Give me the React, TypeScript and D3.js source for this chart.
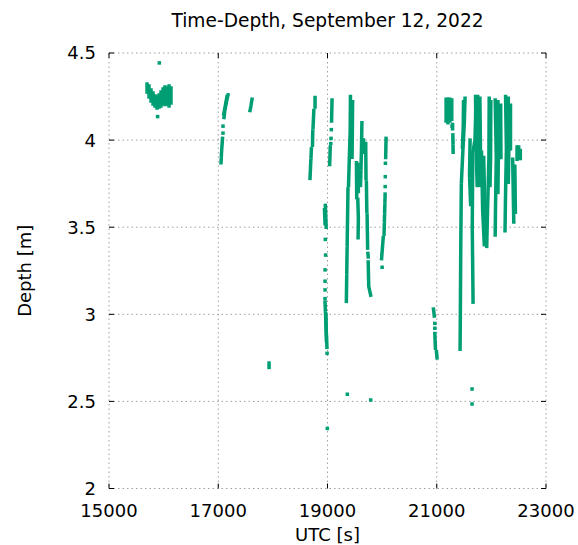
import React from "react";
import * as d3 from "d3";

type P = [number, number];

const title = "Time-Depth, September 12, 2022";
const xLabel = "UTC [s]";
const yLabel = "Depth [m]";
const xTicks = [15000, 17000, 19000, 21000, 23000];
const xTickLabels = ["15000", "17000", "19000", "21000", "23000"];
const yTicks = [2, 2.5, 3, 3.5, 4, 4.5];
const yTickLabels = ["2", "2.5", "3", "3.5", "4", "4.5"];

// strands of samples [UTC s, depth m]
const cluster1: P[][] = [
  [[15696, 4.322], [15696, 4.276]],
  [[15732, 4.311], [15732, 4.247]],
  [[15769, 4.288], [15769, 4.224]],
  [[15806, 4.27], [15806, 4.207]],
  [[15842, 4.253], [15842, 4.196]],
  [[15879, 4.247], [15879, 4.184]],
  [[15916, 4.259], [15916, 4.19]],
  [[15952, 4.276], [15952, 4.196]],
  [[15989, 4.293], [15989, 4.207]],
  [[16025, 4.305], [16025, 4.196]],
  [[16062, 4.299], [16062, 4.207]],
  [[16099, 4.311], [16099, 4.196]],
  [[16135, 4.299], [16135, 4.213]],
];

const cluster2: P[][] = [
  [[17179, 4.26], [17150, 4.22], [17120, 4.17], [17106, 4.13]],
  [[17160, 4.25], [17125, 4.19], [17100, 4.15]],
  [[17078, 4.01], [17060, 3.93], [17051, 3.87]],
  [[17618, 4.235], [17600, 4.2], [17582, 4.17]],
  [[17930, 2.72], [17930, 2.695]],
];

const cluster3: P[][] = [
  [[18772, 4.245], [18772, 4.19]],
  [[18750, 4.17], [18735, 4.07]],
  [[18730, 4.05], [18725, 3.97]],
  [[18705, 3.95], [18690, 3.85], [18680, 3.78]],
  [[19083, 4.23], [19075, 4.11]],
  [[19050, 3.96], [19040, 3.86]],
  [[18960, 3.625], [18975, 3.5]],
  [[18945, 3.6], [18955, 3.52]],
  [[18955, 3.07], [18975, 2.92], [18990, 2.81]],
  [[18970, 3.0], [18980, 2.85]],
  [[19420, 4.25], [19415, 4.05], [19400, 3.9], [19385, 3.74]],
  [[19460, 4.22], [19455, 4.05], [19450, 3.9]],
  [[19375, 3.72], [19360, 3.4], [19345, 3.07]],
  [[19630, 4.1], [19622, 3.95], [19605, 3.74]],
  [[19660, 4.0], [19660, 3.93]],
  [[19530, 3.87], [19535, 3.67]],
  [[19560, 3.86], [19565, 3.7]],
  [[19555, 3.66], [19565, 3.55], [19560, 3.44]],
  [[19700, 3.98], [19705, 3.78]],
  [[19712, 3.76], [19720, 3.59]],
  [[19725, 3.57], [19735, 3.38]],
  [[19740, 3.35], [19745, 3.33]],
  [[19745, 3.3], [19755, 3.16], [19790, 3.11]],
  [[20072, 4.01], [20065, 3.9]],
  [[20055, 3.69], [20035, 3.46]],
  [[20020, 3.44], [19990, 3.32]],
];

const cluster4: P[][] = [
  [[20940, 3.03], [20955, 2.99]],
  [[20965, 2.89], [20975, 2.805]],
  [[20995, 2.785], [21005, 2.75]],
  [[21171, 4.235], [21171, 4.11]],
  [[21205, 4.235], [21205, 4.1]],
  [[21240, 4.235], [21240, 4.11]],
  [[21275, 4.23], [21275, 4.12]],
  [[21290, 4.09], [21290, 4.065]],
  [[21295, 4.03], [21300, 3.93]],
  [[21518, 4.24], [21505, 4.1], [21480, 3.95], [21450, 3.75], [21440, 3.4], [21432, 3.0], [21427, 2.8]],
  [[21490, 4.22], [21485, 4.08], [21470, 3.96]],
  [[21720, 4.24], [21700, 4.0], [21660, 3.93], [21650, 3.5], [21665, 3.07]],
  [[21610, 4.0], [21600, 3.8], [21620, 3.63]],
  [[21710, 4.25], [21720, 3.95], [21740, 3.74]],
  [[21750, 4.25], [21760, 3.95], [21780, 3.74]],
  [[21790, 4.24], [21800, 3.95], [21810, 3.8]],
  [[21820, 3.93], [21840, 3.6], [21870, 3.4]],
  [[21860, 3.9], [21880, 3.6], [21890, 3.45]],
  [[21960, 4.24], [21955, 3.9], [21930, 3.6], [21915, 3.39]],
  [[21990, 4.22], [21985, 3.9], [21975, 3.74]],
  [[22070, 4.23], [22090, 3.9], [22075, 3.6], [22070, 3.455]],
  [[22120, 4.22], [22130, 3.95], [22120, 3.7]],
  [[22170, 4.2], [22175, 3.9]],
  [[22260, 4.25], [22275, 3.95], [22260, 3.7], [22250, 3.48]],
  [[22310, 4.24], [22320, 3.95], [22310, 3.75]],
  [[22350, 4.2], [22350, 3.95]],
  [[22390, 3.89], [22410, 3.53]],
  [[22430, 3.85], [22440, 3.58]],
  [[22470, 3.96], [22470, 3.89]],
  [[22500, 3.96], [22500, 3.9]],
  [[22530, 3.94], [22530, 3.89]],
];

// isolated samples
const singles: P[] = [
  [15921, 4.443], [15890, 4.135],
  [17087, 4.08], [17087, 4.04],
  [19070, 4.06], [19065, 4.01], [19060, 3.98],
  [18960, 3.43], [18965, 3.34], [18955, 3.255], [18955, 3.19], [18955, 3.14], [18955, 3.09],
  [18992, 2.776], [18997, 2.345],
  [19363, 2.541], [19791, 2.508],
  [20060, 3.867], [20058, 3.79], [20056, 3.733], [20000, 3.27],
  [20965, 2.948], [20965, 2.92],
  [21280, 4.08],
  [21646, 2.571], [21646, 2.485],
];

const W = 578, H = 545;
const L = 109, R = 546, T = 53, B = 488.5;
const green = "#009e73";
const font = "DejaVu Sans";

export default function App() {
  const x = d3.scaleLinear().domain([15000, 23000]).range([L, R]);
  const y = d3.scaleLinear().domain([2, 4.5]).range([B, T]);
  const line = d3.line<P>().x((p) => x(p[0])).y((p) => y(p[1]));
  const strands = [...cluster1, ...cluster2, ...cluster3, ...cluster4];

  return (
    <svg width={W} height={H} style={{ position: "absolute", left: 0, top: 0, background: "#fff" }}>
      <rect width={W} height={H} fill="#fff" />
      {xTicks.map((t) => (
        <line key={"gx" + t} x1={x(t)} x2={x(t)} y1={T} y2={B} stroke="#a0a0a0" strokeWidth={1} strokeDasharray="1.5,3" />
      ))}
      {yTicks.map((t) => (
        <line key={"gy" + t} x1={L} x2={R} y1={y(t)} y2={y(t)} stroke="#a0a0a0" strokeWidth={1} strokeDasharray="1.5,3" />
      ))}
      <g>
        {strands.map((s, i) => (
          <path key={"s" + i} d={line(s) || ""} fill="none" stroke={green} strokeWidth={3.5} strokeLinecap="square" strokeDasharray="8,1.5" />
        ))}
        {singles.map((p, i) => (
          <rect key={"p" + i} x={x(p[0]) - 1.75} y={y(p[1]) - 1.75} width={3.5} height={3.5} fill={green} />
        ))}
      </g>
      {xTicks.map((t) => (
        <g key={"tx" + t}>
          <line x1={x(t)} x2={x(t)} y1={B} y2={B - 5} stroke="#000" />
          <line x1={x(t)} x2={x(t)} y1={T} y2={T + 5} stroke="#000" />
        </g>
      ))}
      {yTicks.map((t) => (
        <g key={"ty" + t}>
          <line x1={L} x2={L + 5} y1={y(t)} y2={y(t)} stroke="#000" />
          <line x1={R} x2={R - 5} y1={y(t)} y2={y(t)} stroke="#000" />
        </g>
      ))}
      {xTicks.map((t, i) => (
        <text key={"lx" + t} x={x(t)} y={517} textAnchor="middle" fontFamily={font} fontSize={18} fill="#000">
          {xTickLabels[i]}
        </text>
      ))}
      {yTicks.map((t, i) => (
        <text key={"ly" + t} x={96} y={y(t)} dy="0.36em" textAnchor="end" fontFamily={font} fontSize={18} fill="#000">
          {yTickLabels[i]}
        </text>
      ))}
      <text x={(L + R) / 2} y={27} textAnchor="middle" fontFamily={font} fontSize={18.6} fill="#000">
        {title}
      </text>
      <text x={(L + R) / 2} y={541} textAnchor="middle" fontFamily={font} fontSize={18} fill="#000">
        {xLabel}
      </text>
      <text transform={`translate(31,${(T + B) / 2}) rotate(-90)`} textAnchor="middle" fontFamily={font} fontSize={18} fill="#000">
        {yLabel}
      </text>
    </svg>
  );
}
